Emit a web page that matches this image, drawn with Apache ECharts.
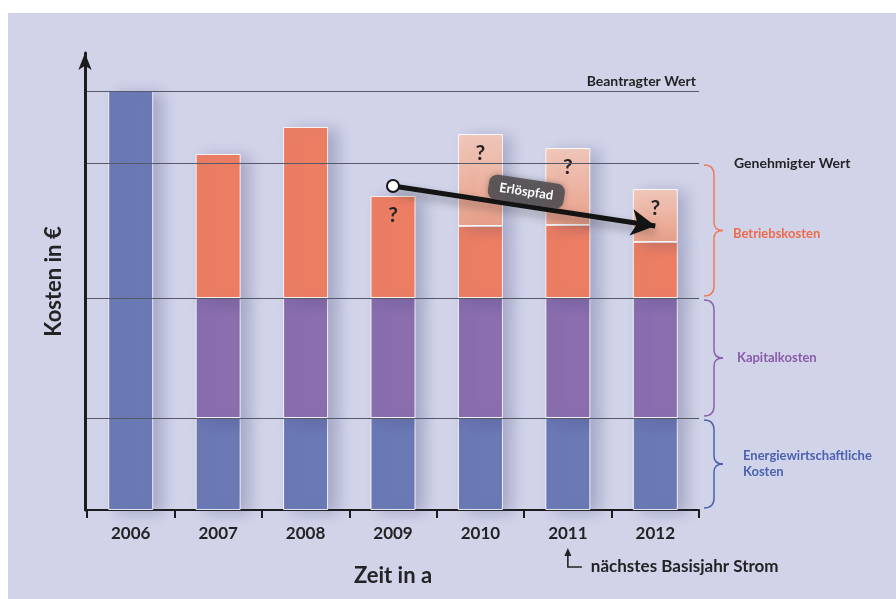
<!DOCTYPE html>
<html>
<head>
<meta charset="utf-8">
<script src="https://cdn.jsdelivr.net/npm/echarts@6/dist/echarts.min.js"></script>
<style>
html,body{margin:0;padding:0;background:#ffffff;}
#chart{width:896px;height:599px;}
</style>
</head>
<body>
<div id="chart"></div>
<script>
// ---- data ----
const categories = ['2006', '2007', '2008', '2009', '2010', '2011', '2012'];
const energyCosts = [419, 92, 92, 92, 92, 92, 92];
const capitalCosts = [null, 120, 120, 120, 120, 120, 120];
const operatingCosts = [null, 144, 171, 102, 72, 73, 56];
const uncertainCosts = [null, null, null, null, 92, 77, 53];
const questionOnOperating = ['2009'];
const requestedValue = 419;   // Beantragter Wert
const approvedValue = 347;    // Genehmigter Wert
const pathStart = ['2009', 324];
const pathEnd = ['2012', 284];
const nextBaseYear = '2011';

const FONT = 'Lato, "Open Sans", sans-serif';
const DARK = '#232326';
const chart = echarts.init(document.getElementById('chart'), null, {renderer: 'canvas'});

const barShadow = {shadowColor: 'rgba(70,70,120,0.30)', shadowBlur: 14, shadowOffsetX: 9, shadowOffsetY: 2};
const barBorder = {borderColor: 'rgba(255,255,255,0.85)', borderWidth: 1};

const option = {
  animation: false,
  backgroundColor: 'transparent',
  textStyle: {fontFamily: FONT},
  grid: {left: 87, right: 197, top: 53, bottom: 89, containLabel: false},
  xAxis: {
    type: 'category',
    data: categories,
    boundaryGap: true,
    axisLine: {show: true, lineStyle: {color: '#1c1c1f', width: 2}},
    axisTick: {show: true, interval: 0, length: 8, lineStyle: {color: '#1c1c1f', width: 2}},
    axisLabel: {color: DARK, fontSize: 17, fontWeight: 'bold', margin: 15, fontFamily: FONT},
    name: 'Zeit in a',
    nameLocation: 'middle',
    nameGap: 55,
    nameTextStyle: {color: DARK, fontSize: 22, fontWeight: 'bold', fontFamily: FONT}
  },
  yAxis: {
    type: 'value',
    min: 0,
    max: 457,
    offset: 2,
    splitLine: {show: false},
    axisTick: {show: false},
    axisLabel: {show: false},
    axisLine: {show: true, symbol: ['none', 'arrow'], symbolSize: [10, 17], symbolOffset: [0, 0],
      lineStyle: {color: '#1c1c1f', width: 3}},
    name: 'Kosten in €',
    nameLocation: 'middle',
    nameGap: 20,
    nameTextStyle: {color: DARK, fontSize: 22, fontWeight: 'bold', fontFamily: FONT}
  },
  series: [
    {
      name: 'ref', type: 'line', data: [], silent: true, z: 1,
      markLine: {
        silent: true, symbol: ['none', 'none'],
        lineStyle: {color: '#55596a', width: 1.2, type: 'solid'},
        data: [
          {yAxis: requestedValue, label: {show: true, position: 'insideEndTop', formatter: 'Beantragter Wert',
            color: DARK, fontSize: 14, fontWeight: 'bold', distance: 3, fontFamily: FONT}},
          {yAxis: approvedValue, label: {show: true, position: 'end', formatter: 'Genehmigter Wert',
            color: DARK, fontSize: 14, fontWeight: 'bold', distance: 35, fontFamily: FONT}},
          {yAxis: energyCosts[1] + capitalCosts[1], label: {show: false}},
          {yAxis: energyCosts[1], label: {show: false}}
        ]
      }
    },
    {
      name: 'Energiewirtschaftliche Kosten', type: 'bar', stack: 'k', barWidth: 45, z: 2,
      data: energyCosts,
      itemStyle: Object.assign({color: '#6b79b5'}, barBorder, barShadow)
    },
    {
      name: 'Kapitalkosten', type: 'bar', stack: 'k', barWidth: 45, z: 2,
      data: capitalCosts,
      itemStyle: Object.assign({color: '#8a6eae'}, barBorder, barShadow)
    },
    {
      name: 'Betriebskosten', type: 'bar', stack: 'k', barWidth: 45, z: 2,
      data: operatingCosts.map((v, i) => questionOnOperating.indexOf(categories[i]) >= 0
        ? {value: v, label: {show: true}} : v),
      label: {show: false, position: 'insideTop', distance: 9, formatter: '?', color: DARK,
        fontSize: 21, fontWeight: 'bold', fontFamily: FONT},
      itemStyle: Object.assign({color: '#ec7e63'}, barBorder, barShadow)
    },
    {
      name: 'Unsicher', type: 'bar', stack: 'k', barWidth: 45, z: 3,
      data: uncertainCosts,
      label: {show: true, position: 'insideTop', distance: 9, formatter: '?', color: DARK,
        fontSize: 21, fontWeight: 'bold', fontFamily: FONT},
      itemStyle: Object.assign({
        color: new echarts.graphic.LinearGradient(0, 0, 0, 1, [
          {offset: 0, color: 'rgba(247,202,184,0.9)'},
          {offset: 1, color: 'rgba(239,158,130,0.9)'}
        ])
      }, barBorder, barShadow)
    },
    {
      name: 'Erlöspfad', type: 'line', data: [], z: 10,
      markLine: {
        silent: true, symbol: ['none', 'arrow'], symbolSize: [20, 24],
        lineStyle: {color: '#141414', width: 5, type: 'solid',
          shadowColor: 'rgba(0,0,0,0.35)', shadowBlur: 10, shadowOffsetY: 5},
        label: {show: true, position: 'middle', formatter: 'Erlöspfad', color: '#ffffff',
          fontSize: 13, fontWeight: 'bold', fontFamily: FONT,
          backgroundColor: 'rgba(85,80,84,0.92)', padding: [6, 11, 6, 11], borderRadius: 8,
          distance: 2, shadowColor: 'rgba(0,0,0,0.3)', shadowBlur: 6},
        data: [[{coord: pathStart}, {coord: pathEnd}]]
      },
      markPoint: {
        silent: true, symbol: 'circle', symbolSize: 12,
        itemStyle: {color: '#ffffff', borderColor: '#141414', borderWidth: 2},
        label: {show: false},
        data: [{coord: pathStart}]
      }
    }
  ]
};

chart.setOption(option);

// ---- annotations (positions derived from axes) ----
function py(v) { return chart.convertToPixel({yAxisIndex: 0}, v); }
function px(c) { return chart.convertToPixel({xAxisIndex: 0}, c); }

const xEnd = px(categories[categories.length - 1]) + (px(categories[1]) - px(categories[0])) / 2;
const bx0 = xEnd + 5, bx1 = bx0 + 10, bx2 = bx1 + 9;
function brace(yTop, yBot, color) {
  const y1 = yTop + 2, y2 = yBot - 2, ym = (y1 + y2) / 2;
  const st = {fill: null, stroke: color, lineWidth: 1.5};
  return [
    {type: 'bezierCurve', shape: {x1: bx0, y1: y1, x2: bx1, y2: y1 + 10, cpx1: bx1, cpy1: y1}, style: st, z: 5, silent: true},
    {type: 'line', shape: {x1: bx1, y1: y1 + 10, x2: bx1, y2: ym - 8}, style: st, z: 5, silent: true},
    {type: 'bezierCurve', shape: {x1: bx1, y1: ym - 8, x2: bx2, y2: ym, cpx1: bx1, cpy1: ym}, style: st, z: 5, silent: true},
    {type: 'bezierCurve', shape: {x1: bx2, y1: ym, x2: bx1, y2: ym + 8, cpx1: bx1, cpy1: ym}, style: st, z: 5, silent: true},
    {type: 'line', shape: {x1: bx1, y1: ym + 8, x2: bx1, y2: y2 - 10}, style: st, z: 5, silent: true},
    {type: 'bezierCurve', shape: {x1: bx1, y1: y2 - 10, x2: bx0, y2: y2, cpx1: bx1, cpy1: y2}, style: st, z: 5, silent: true}
  ];
}
const yOpTop = py(approvedValue);
const yCapTop = py(energyCosts[1] + capitalCosts[1]);
const yEnTop = py(energyCosts[1]);
const yBase = py(0);

const xb = px(nextBaseYear);
const yArr = yBase + 57;

const graphics = [
  {type: 'rect', shape: {x: 8, y: 13, width: 888, height: 586}, style: {fill: '#d1d4e9'}, z: -100, silent: true}
].concat(
  brace(yOpTop, yCapTop, '#f07a58'),
  brace(yCapTop, yEnTop, '#8a62ac'),
  brace(yEnTop, yBase, '#4a62ae'),
  [
    {type: 'text', x: bx2 + 10, y: (yOpTop + yCapTop) / 2 + 3, z: 5,
      style: {text: 'Betriebskosten', fill: '#ef6a4b', font: 'bold 13px ' + FONT, textVerticalAlign: 'middle'}},
    {type: 'text', x: bx2 + 14, y: (yCapTop + yEnTop) / 2, z: 5,
      style: {text: 'Kapitalkosten', fill: '#8a5ba8', font: 'bold 13px ' + FONT, textVerticalAlign: 'middle'}},
    {type: 'text', x: bx2 + 20, y: (yEnTop + yBase) / 2, z: 5,
      style: {text: 'Energiewirtschaftliche\nKosten', fill: '#4a62b0', font: 'bold 13px ' + FONT,
        textVerticalAlign: 'middle', lineHeight: 16}},
    {type: 'polyline', shape: {points: [[xb, yArr - 12], [xb, yArr], [xb + 14, yArr]]},
      style: {stroke: DARK, lineWidth: 1.6, fill: null}, z: 5, silent: true},
    {type: 'polygon', shape: {points: [[xb - 3.5, yArr - 11], [xb + 3.5, yArr - 11], [xb, yArr - 19]]},
      style: {fill: DARK}, z: 5, silent: true},
    {type: 'text', x: xb + 23, y: yArr, z: 5,
      style: {text: 'nächstes Basisjahr Strom', fill: DARK, font: 'bold 17px ' + FONT, textVerticalAlign: 'middle'}}
  ]
);

chart.setOption({graphic: graphics});
</script>
</body>
</html>
